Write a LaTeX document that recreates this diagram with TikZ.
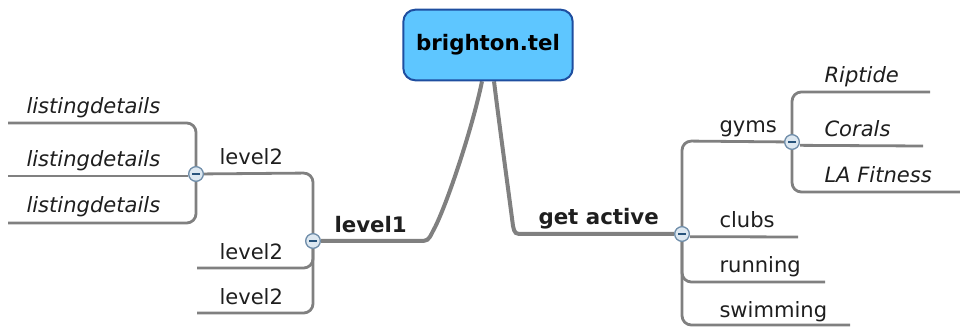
\documentclass[tikz,border=0pt]{standalone}
\usepackage{fontspec}
\setmainfont{DejaVu Sans}
\pgfdeclarelayer{background}
\pgfsetlayers{background,main}

\definecolor{branchgray}{RGB}{128,128,128}
\definecolor{topicfill}{RGB}{94,198,255}
\definecolor{topicline}{RGB}{30,78,160}
\definecolor{knobfill}{RGB}{221,232,241}
\definecolor{knobline}{RGB}{112,142,170}
\definecolor{knobmark}{RGB}{40,84,124}
\definecolor{inkgray}{RGB}{30,30,30}

\tikzset{every picture/.style={line width=0.75pt}}
\tikzset{
  topic/.style={draw=topicline, fill=topicfill, line width=1.5pt, rounded corners=9pt,
    minimum width=127pt, minimum height=53pt, inner sep=0.75pt,
    font=\bfseries\fontsize{16}{19}\selectfont},
  hub/.style={anchor=base west, inner sep=0.75pt, text=inkgray, font=\bfseries\fontsize{16}{19}\selectfont},
  leaf/.style={anchor=base west, inner sep=0.75pt, text=inkgray, font=\fontsize{15.8}{19}\selectfont},
  entry/.style={leaf, font=\itshape\fontsize{15.8}{19}\selectfont},
  knob/.style={circle, draw=knobline, fill=knobfill, line width=1pt, minimum size=11pt, inner sep=0pt,
    path picture={\draw[knobmark, line width=1.3pt]
      ([xshift=-3pt]path picture bounding box.center) -- ([xshift=3pt]path picture bounding box.center);}},
  branch/.style={draw=branchgray, line width=2.1pt, rounded corners=7pt},
  trunk/.style={draw=branchgray, line width=3pt},
}

\begin{document}
\begin{tikzpicture}[x=0.75pt,y=0.75pt,yscale=-1,xscale=1]
\useasboundingbox (0,0) rectangle (960,327);

%Central topic
\draw (488,45) node [topic] (root) {brighton.tel};

% Knobs
\draw (313,241) node [knob] (kone) {};
\draw (196,174) node [knob] (ktwo) {};
\draw (682,234) node [knob] (kact) {};
\draw (792,142) node [knob] (kgym) {};

% Text Node
\draw (333,233) node [hub] (lvone) {level1};
% Text Node
\draw (537,225) node [hub] (act) {get active};

% Text Node
\draw (218,165) node [leaf] (lvtwoa) {level2};
% Text Node
\draw (218,260) node [leaf] (lvtwob) {level2};
% Text Node
\draw (218,305) node [leaf] (lvtwoc) {level2};

% Text Node
\draw (25,114) node [entry] (lda) {listingdetails};
% Text Node
\draw (25,167) node [entry] (ldb) {listingdetails};
% Text Node
\draw (25,213) node [entry] (ldc) {listingdetails};

% Text Node
\draw (718,133) node [leaf] (gyms) {gyms};
% Text Node
\draw (718,228) node [leaf] (clubs) {clubs};
% Text Node
\draw (718,273) node [leaf] (running) {running};
% Text Node
\draw (718,318) node [leaf] (swimming) {swimming};

% Text Node
\draw (823,83) node [entry] (riptide) {Riptide};
% Text Node
\draw (823,137) node [entry] (corals) {Corals};
% Text Node
\draw (823,183) node [entry] (lafit) {LA Fitness};

% free ends of the branches
\coordinate (ldaend) at (8,123);
\coordinate (ldbend) at (8,176);
\coordinate (ldcend) at (8,223);
\coordinate (lvbend) at (197,268);
\coordinate (lvcend) at (197,313);
\coordinate (clubsend) at (798,237);
\coordinate (runend) at (825,282);
\coordinate (swimend) at (850,325);
\coordinate (ripend) at (930,92);
\coordinate (corend) at (923,146);
\coordinate (laend) at (960,192);

\begin{pgfonlayer}{background}
%Trunks
\draw [trunk] ([xshift=-4.5pt]root.south) .. controls (472,130) and (445,210) .. (433,231)
  .. controls (428,241) .. (418,241) -- (kone);
\draw [trunk] ([xshift=4.5pt]root.south) .. controls (500,130) and (509,195) .. (513,226)
  .. controls (515,234) .. (524,234) -- (kact);

%Left branches
\draw [branch] (kone.center) -- (313,173) -- (ktwo.center);
\draw [branch] (kone.center) -- (313,268) -- (lvbend);
\draw [branch] (kone.center) -- (313,313) -- (lvcend);
\draw [branch] (ktwo.center) -- (196,123) -- (ldaend);
\draw [branch] ([yshift=1.5pt]ktwo.west) -- (ldbend);
\draw [branch] (ktwo.center) -- (196,223) -- (ldcend);

%Right branches
\draw [branch] (kact.center) -- (682,141) -- (kgym.center);
\draw [branch] ([yshift=2pt]kact.east) -- (clubsend);
\draw [branch] (kact.center) -- (682,282) -- (runend);
\draw [branch] (kact.center) -- (682,325) -- (swimend);
\draw [branch] (kgym.center) -- (792,92) -- (ripend);
\draw [branch] ([yshift=2.5pt]kgym.east) -- (corend);
\draw [branch] (kgym.center) -- (792,192) -- (laend);
\end{pgfonlayer}

\end{tikzpicture}
\end{document}
